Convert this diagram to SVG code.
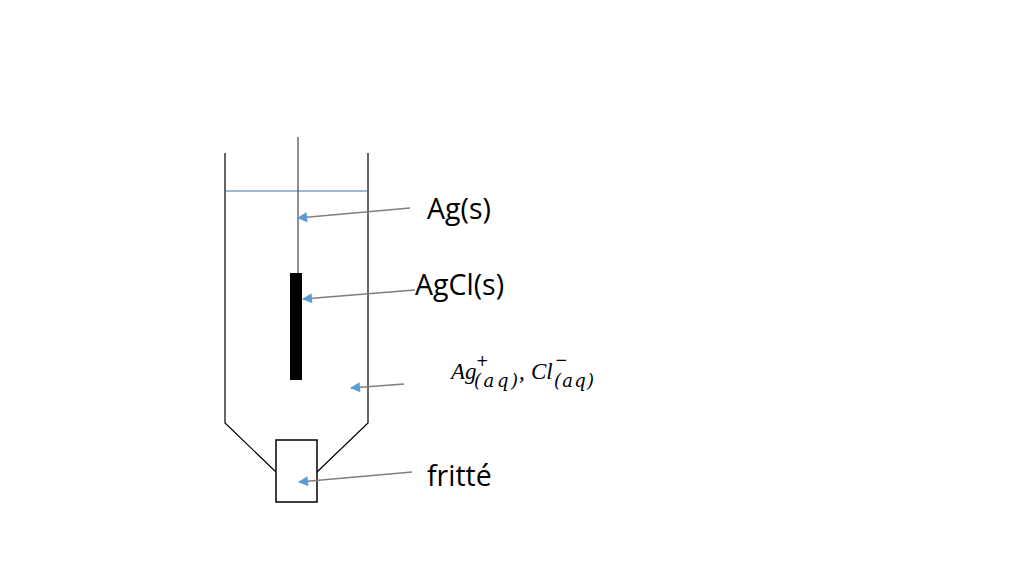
<svg xmlns="http://www.w3.org/2000/svg" width="1024" height="576" viewBox="0 0 1024 576">
<defs>
<style>
.wall{fill:none;stroke:#000;stroke-width:1.2}
.lbl{font-family:"Open Sans","Liberation Sans",sans-serif;font-size:28.5px;fill:#000}
.math{font-family:"Liberation Serif","DejaVu Serif",serif;font-style:italic;font-size:23px;fill:#000}
.sub{font-family:"DejaVu Serif","Liberation Serif",serif;font-style:italic;font-size:18px;fill:#000}
.up{font-family:"DejaVu Sans","Liberation Sans",sans-serif;fill:#000}
.conn{stroke:#7f7f7f;stroke-width:1.3;fill:none;marker-end:url(#ah)}
</style>
<marker id="ah" viewBox="0 0 10 10" refX="9" refY="5" markerWidth="12" markerHeight="10" markerUnits="userSpaceOnUse" orient="auto">
<path d="M0,0 L10,5 L0,10 Z" fill="#5b9bd5"/>
</marker>
</defs>
<rect width="1024" height="576" fill="#fff"/>
<g id="tube">
<path class="wall" d="M225,153 V423 L276,472"/>
<path class="wall" d="M368,153 V423 L317,472"/>
<line x1="225" y1="191" x2="368" y2="191" stroke="#44729e" stroke-width="1.2"/>
</g>
<g id="wire">
<line x1="298" y1="137" x2="298" y2="273" stroke="#555" stroke-width="1.3"/>
</g>
<g id="agcl">
<rect x="290" y="273" width="12" height="107" fill="#000"/>
</g>
<g id="frit">
<rect x="276" y="440" width="41" height="62" fill="#fff" stroke="#000" stroke-width="1.5"/>
</g>
<g id="connectors">
<line class="conn" x1="410" y1="208" x2="298" y2="218"/>
<line class="conn" x1="415" y1="290" x2="303" y2="299"/>
<line class="conn" x1="404" y1="384" x2="351" y2="388"/>
<line class="conn" x1="412" y1="472" x2="299" y2="482"/>
</g>
<g id="label-ag"><text class="lbl" x="427" y="219">Ag(s)</text></g>
<g id="label-agcl"><text class="lbl" x="415" y="295">AgCl(s)</text></g>
<g id="label-ions">
<text class="math" x="451" y="379">Ag</text>
<text class="up" font-size="15" x="476" y="366">+</text>
<text class="sub" x="474" y="387" textLength="44">(aq)</text>
<text class="math" x="519" y="379" font-style="normal">,</text>
<text class="math" x="531" y="379">Cl</text>
<text class="up" font-size="15" x="555" y="365">−</text>
<text class="sub" x="554" y="387" textLength="40">(aq)</text>
</g>
<g id="label-frit"><text class="lbl" x="427" y="486">fritté</text></g>
</svg>
